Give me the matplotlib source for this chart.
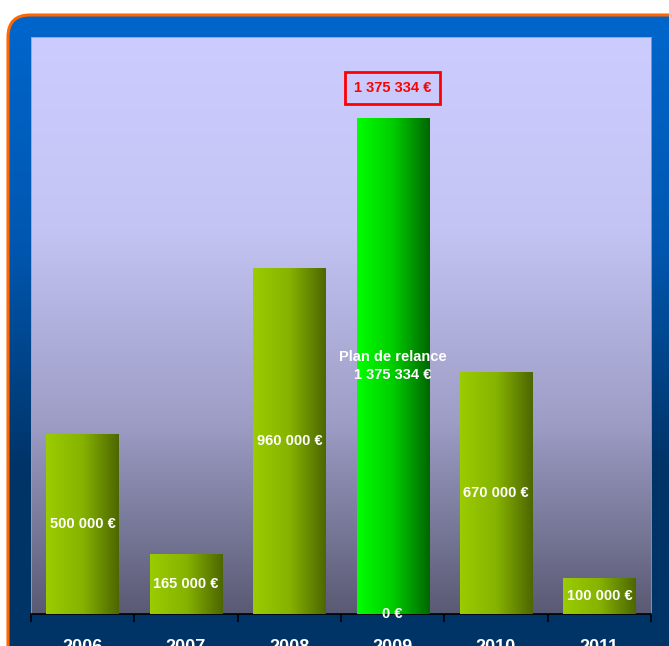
import matplotlib

matplotlib.use("Agg")
import matplotlib.pyplot as plt
import numpy as np
from matplotlib.colors import LinearSegmentedColormap
from matplotlib.patches import FancyBboxPatch
from matplotlib import font_manager

years = ["2006", "2007", "2008", "2009", "2010", "2011"]
base_values = [500000, 165000, 960000, 0, 670000, 100000]
relance_values = [0, 0, 0, 1375334, 0, 0]
relance_label = "Plan de relance"

names = {f.name for f in font_manager.fontManager.ttflist}
FONT = "Liberation Sans Narrow" if "Liberation Sans Narrow" in names else "Liberation Sans"


def euro(v):
    return f"{v:,}".replace(",", " ") + " €"


W, H = 669, 646
fig = plt.figure(figsize=(W / 100, H / 100), dpi=100)
fig.patch.set_facecolor("white")

# outer rounded frame with vertical blue gradient
bg = fig.add_axes([0, 0, 1, 1])
bg.set_xlim(0, W)
bg.set_ylim(H, 0)
bg.axis("off")
frame = FancyBboxPatch((8, 15), W + 40, H + 40, boxstyle="round,pad=0,rounding_size=22",
                       facecolor="none", edgecolor="#ff6600", linewidth=2.2, zorder=3)
bg.add_patch(frame)
blue = LinearSegmentedColormap.from_list("blue", ["#0066cc", "#0057b0", "#003366", "#003366"])
grad = np.linspace(0, 1, 256).reshape(-1, 1)
im = bg.imshow(grad, cmap=blue, extent=(8, W + 48, H + 55, 15), aspect="auto", zorder=1)
im.set_clip_path(frame)

# plot area
ax = fig.add_axes([31 / W, 1 - 614 / H, 620 / W, 577 / H])
x = np.arange(len(years))
ax.set_xlim(-0.5, len(years) - 0.5)
ax.set_ylim(0, 1600000)
panel = LinearSegmentedColormap.from_list("panel", ["#ccccff", "#c4c4f4", "#9d9dc6", "#5a5a74"])
ax.imshow(grad, cmap=panel, extent=(0, 1, 0, 1), transform=ax.transAxes,
          aspect="auto", zorder=0)

olive = LinearSegmentedColormap.from_list("olive", ["#9acc00", "#86b300", "#4d6600"])
green = LinearSegmentedColormap.from_list("green", ["#00ff00", "#00cc00", "#006600"])
hgrad = np.linspace(0, 1, 256).reshape(1, -1)

bw = 0.70
b1 = ax.bar(x, base_values, width=bw, color="#86b300", zorder=2)
b2 = ax.bar(x, relance_values, width=bw, bottom=base_values, color="#00cc00", zorder=2)
for bars, cmap in ((b1, olive), (b2, green)):
    for r in bars:
        if r.get_height() <= 0:
            continue
        x0, y0 = r.get_x(), r.get_y()
        img = ax.imshow(hgrad, cmap=cmap, extent=(x0, x0 + r.get_width(), y0, y0 + r.get_height()),
                        aspect="auto", zorder=3)
        img.set_clip_path(r)
ax.set_xlim(-0.5, len(years) - 0.5)
ax.set_ylim(0, 1600000)

lab = dict(color="white", fontweight="bold", fontsize=10.5, family=FONT,
           ha="center", va="center", zorder=5)
for i, v in enumerate(base_values):
    ax.text(i, v / 2, euro(v), **lab)
for i, v in enumerate(relance_values):
    if v > 0:
        ax.text(i, base_values[i] + v / 2, f"{relance_label}\n{euro(v)}", linespacing=1.4, **lab)
        total = base_values[i] + v
        ax.annotate(euro(total), (i, total), xytext=(0, 21.5), textcoords="offset points",
                    color="#ff0000", fontweight="bold", fontsize=10.5, family=FONT,
                    ha="center", va="center", zorder=5,
                    bbox=dict(boxstyle="square,pad=0.62", fc="none", ec="#ff0000", lw=2))

for s in ("top", "right", "left"):
    ax.spines[s].set_color("#9999dd")
    ax.spines[s].set_linewidth(0.6)
ax.spines["bottom"].set_color("black")
ax.spines["bottom"].set_linewidth(1.2)
ax.set_yticks([])
ax.set_xticks(np.arange(len(years) + 1) - 0.5)
ax.set_xticklabels([])
ax.tick_params(axis="x", length=6, width=1.2, color="black", direction="out")
for i, yr in enumerate(years):
    ax.text(i, -0.058, yr, transform=ax.get_xaxis_transform(), color="white",
            fontweight="bold", fontsize=13, family="Liberation Sans",
            ha="center", va="center", clip_on=False)

fig.savefig("out.png", dpi=100)
